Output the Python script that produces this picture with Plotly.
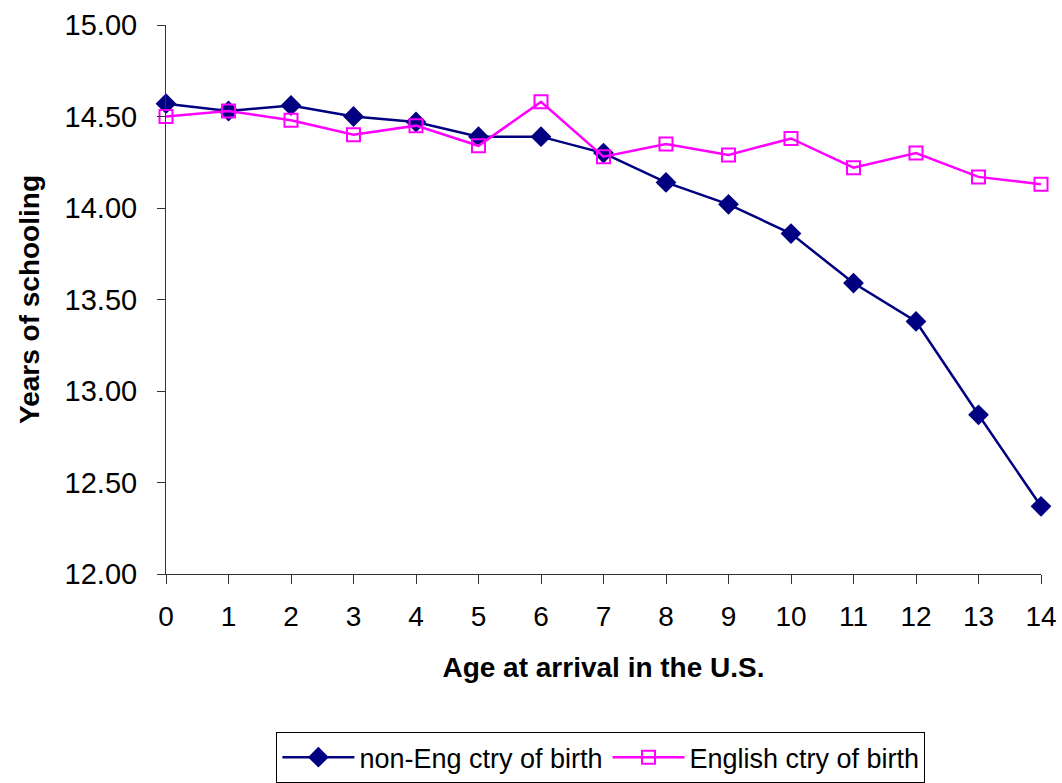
import plotly.graph_objects as go

ages = list(range(15))
non_eng = [14.57, 14.53, 14.56, 14.50, 14.47, 14.39, 14.39, 14.30, 14.14, 14.02, 13.86, 13.59, 13.38, 12.87, 12.37]
english = [14.50, 14.53, 14.48, 14.40, 14.45, 14.34, 14.58, 14.28, 14.35, 14.29, 14.38, 14.22, 14.30, 14.17, 14.13]
y_ticks = [12.0, 12.5, 13.0, 13.5, 14.0, 14.5, 15.0]

fig = go.Figure()
fig.add_trace(go.Scatter(
    x=ages, y=non_eng, mode="lines+markers", name="non-Eng ctry of birth",
    line=dict(color="#000080", width=2.5),
    marker=dict(symbol="diamond", size=16, color="#000080"),
    cliponaxis=False,
))
fig.add_trace(go.Scatter(
    x=ages, y=english, mode="lines+markers", name="English ctry of birth",
    line=dict(color="#FF00FF", width=2.5),
    marker=dict(symbol="square-open", size=13, color="#FF00FF", line=dict(width=2)),
    cliponaxis=False,
))

fig.update_layout(
    width=1062, height=783,
    margin=dict(l=166, r=21, t=25, b=209, autoexpand=False),
    paper_bgcolor="white", plot_bgcolor="white",
    font=dict(family="Liberation Sans, Arial, sans-serif", color="black"),
    showlegend=True,
    legend=dict(
        orientation="h", x=0.497, xanchor="center", y=-0.288, yanchor="top",
        bordercolor="black", borderwidth=1, font=dict(size=27),
        itemwidth=72, tracegroupgap=0,
    ),
    xaxis=dict(
        range=[0, 14], tickmode="array", tickvals=ages, ticktext=[str(a) for a in ages],
        showgrid=False, zeroline=False, showline=True, linecolor="#333333", linewidth=1,
        ticks="outside", ticklen=9, tickcolor="#333333", ticklabelstandoff=8,
        tickfont=dict(size=28),
        title=dict(text="<b>Age at arrival in the U.S.</b>", font=dict(size=28), standoff=26),
    ),
    yaxis=dict(
        range=[12, 15], tickmode="array", tickvals=y_ticks, tickformat=".2f",
        showgrid=False, zeroline=False, showline=True, linecolor="#333333", linewidth=1,
        ticks="outside", ticklen=8, tickcolor="#333333", ticklabelstandoff=14,
        tickfont=dict(size=29),
        title=dict(text="<b>Years of schooling</b>", font=dict(size=28), standoff=16),
    ),
)

fig.write_html("out.html", config={"displayModeBar": False},
               post_script="document.body.style.margin='0';")
